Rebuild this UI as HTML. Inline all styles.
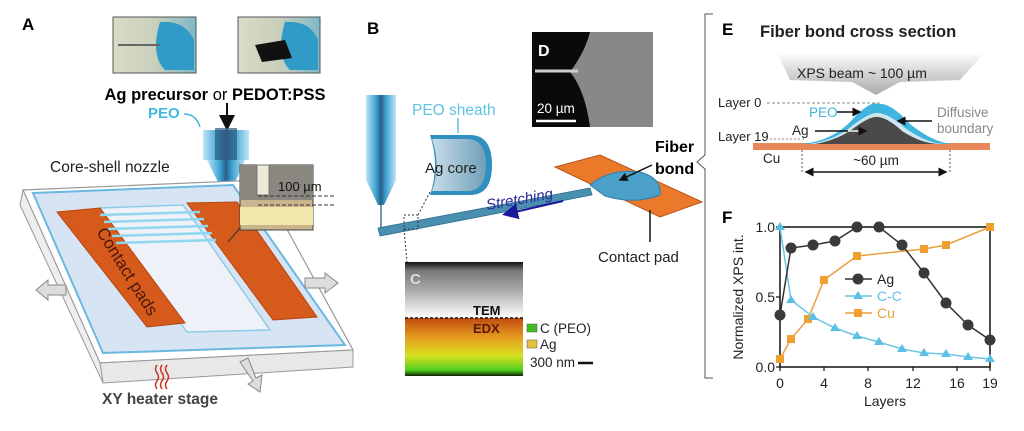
<!DOCTYPE html>
<html><head><meta charset="utf-8"><style>
html,body{margin:0;padding:0;background:#fff;}
svg{display:block;font-family:"Liberation Sans",Arial,sans-serif;}
</style></head><body>
<svg width="1024" height="431" viewBox="0 0 1024 431" xmlns="http://www.w3.org/2000/svg">
<defs>
<linearGradient id="nz" x1="0" x2="1"><stop offset="0" stop-color="#bfe6f5"/><stop offset=".35" stop-color="#3a9fd0"/><stop offset=".5" stop-color="#2a5f88"/><stop offset=".65" stop-color="#3a9fd0"/><stop offset="1" stop-color="#bfe6f5"/></linearGradient>
<linearGradient id="beam" x1="0" y1="0" x2="0" y2="1"><stop offset="0" stop-color="#fff"/><stop offset="1" stop-color="#aaa"/></linearGradient>
<linearGradient id="edx" x1="0" y1="0" x2="0" y2="1"><stop offset="0" stop-color="#c24a10"/><stop offset=".35" stop-color="#e6a020"/><stop offset=".65" stop-color="#d8e020"/><stop offset=".9" stop-color="#50d020"/><stop offset="1" stop-color="#102008"/></linearGradient>
<linearGradient id="tem" x1="0" y1="0" x2="0" y2="1"><stop offset="0" stop-color="#111"/><stop offset=".15" stop-color="#777"/><stop offset=".5" stop-color="#aaa"/><stop offset=".9" stop-color="#eee"/><stop offset="1" stop-color="#fff"/></linearGradient>
<linearGradient id="ph" x1="0" x2="1"><stop offset="0" stop-color="#d9dcc6"/><stop offset=".5" stop-color="#c9d0bc"/><stop offset="1" stop-color="#7fb8c8"/></linearGradient>
<linearGradient id="agc" x1="0" x2="1"><stop offset="0" stop-color="#c8dde8"/><stop offset="1" stop-color="#6f9fb8"/></linearGradient>
<marker id="ah" markerWidth="8" markerHeight="8" refX="6" refY="4" orient="auto"><path d="M0,0 L8,4 L0,8 z" fill="#111"/></marker>
<marker id="ahb" markerWidth="8" markerHeight="8" refX="6" refY="4" orient="auto"><path d="M0,0 L8,4 L0,8 z" fill="#1a1a9a"/></marker>
<marker id="ahs" markerWidth="6" markerHeight="6" refX="5" refY="3" orient="auto"><path d="M0,0 L6,3 L0,6 z" fill="#111"/></marker>
<marker id="ahs2" markerWidth="6" markerHeight="6" refX="1" refY="3" orient="auto"><path d="M6,0 L0,3 L6,6 z" fill="#111"/></marker>
</defs>

<!-- ===== Panel A ===== -->
<text x="22" y="30" font-size="17" font-weight="bold">A</text>
<rect x="113" y="17" width="83" height="56" fill="url(#ph)" stroke="#555" stroke-width="1"/>
<path d="M160,22 Q185,20 194,40 L194,70 L165,70 Q150,55 160,22z" fill="#2f9bc6"/>
<path d="M118,45 L160,45" stroke="#666" stroke-width="2"/>
<rect x="238" y="17" width="82" height="56" fill="url(#ph)" stroke="#555" stroke-width="1"/>
<path d="M285,22 Q310,20 318,40 L318,70 L290,70 Q275,55 285,22z" fill="#2f9bc6"/>
<path d="M255,45 L285,40 L292,58 L262,62z" fill="#111"/>
<text x="215" y="100" font-size="16.5" text-anchor="middle"><tspan font-weight="bold">Ag precursor</tspan> or <tspan font-weight="bold">PEDOT:PSS</tspan></text>
<text x="148" y="118" font-size="15" fill="#3fb7de" font-weight="bold">PEO</text>
<path d="M184,114 Q196,114 200,127" stroke="#3fb7de" stroke-width="1.5" fill="none"/>
<line x1="227" y1="103" x2="227" y2="127" stroke="#111" stroke-width="2" marker-end="url(#ah)"/>
<rect x="203" y="130" width="46" height="30" fill="url(#nz)"/>
<rect x="215" y="128" width="22" height="34" fill="#2d5a80" opacity=".7"/>
<path d="M207,160 L245,160 L229,196 L225,196z" fill="url(#nz)"/>
<line x1="227" y1="196" x2="227" y2="240" stroke="#8fd0ea" stroke-width="2"/>
<text x="50" y="172" font-size="15.5" fill="#222">Core-shell nozzle</text>
<!-- stage -->
<path d="M23,190 L260,180 L353,350 L100,363z" fill="#fff" stroke="#999" stroke-width="1.2"/>
<path d="M100,363 L353,350 L353,367 L103,383 L100,363z" fill="#e8e8e8" stroke="#999"/>
<path d="M23,190 L100,363 L103,383 L20,205z" fill="#eee" stroke="#999"/>
<path d="M33,193 L233,185 L345,345 L103,353z" fill="#d6e4f4" stroke="#6bb8e0" stroke-width="2"/>
<path d="M100,208 L183,205 L270,330 L187,332z" fill="#eef2f8" stroke="#8ecbe6" stroke-width="1.5"/>
<path d="M57,212 L100,208 L185,323 L147,327z" fill="#d55a1c" stroke="#b84510"/>
<path d="M187,203 L237,202 L317,317 L273,320z" fill="#d55a1c" stroke="#b84510"/>
<g stroke="#8fd6ee" stroke-width="2.5">
<line x1="100" y1="215" x2="200" y2="212"/><line x1="104" y1="222" x2="204" y2="219"/><line x1="108" y1="229" x2="208" y2="226"/><line x1="112" y1="236" x2="212" y2="233"/><line x1="116" y1="243" x2="216" y2="240"/>
</g>
<text x="0" y="0" font-size="17" fill="#4a1a08" transform="translate(96,232) rotate(58)">Contact pads</text>
<rect x="240" y="165" width="73" height="65" fill="#c9b58e" stroke="#444"/>
<rect x="240" y="165" width="73" height="35" fill="#8a8680"/>
<rect x="257" y="165" width="12" height="30" fill="#eee8d8" stroke="#777"/>
<rect x="240" y="207" width="73" height="18" fill="#f2e6a8"/>
<line x1="258" y1="196" x2="335" y2="196" stroke="#333" stroke-dasharray="4,2"/>
<line x1="258" y1="205" x2="335" y2="205" stroke="#333" stroke-dasharray="4,2"/>
<text x="278" y="191" font-size="13" fill="#111">100 µm</text>
<line x1="240" y1="228" x2="228" y2="242" stroke="#333"/>
<path d="M66,285 L48,285 L48,280 L36,290 L48,300 L48,295 L66,295z" fill="#ddd" stroke="#888"/>
<path d="M305,278 L325,278 L325,273 L338,283 L325,293 L325,288 L305,288z" fill="#ddd" stroke="#888"/>
<path d="M240,362 L248,358 L256,378 L262,375 L260,392 L248,384 L253,381z" fill="#ddd" stroke="#888"/>
<g stroke="#d03020" stroke-width="1.5" fill="none">
<path d="M157,365 q-3,4 0,8 q3,4 0,8 q-3,4 0,8"/><path d="M162,365 q-3,4 0,8 q3,4 0,8 q-3,4 0,8"/><path d="M167,365 q-3,4 0,8 q3,4 0,8 q-3,4 0,8"/>
</g>
<text x="160" y="404" font-size="15.5" font-weight="bold" fill="#444" text-anchor="middle">XY heater stage</text>

<!-- ===== Panel B ===== -->
<text x="367" y="34" font-size="17" font-weight="bold">B</text>
<rect x="366" y="95" width="30" height="85" fill="url(#nz)"/>
<path d="M366,180 L396,180 L384,205 L378,205z" fill="url(#nz)"/>
<line x1="381" y1="205" x2="381" y2="232" stroke="#6a9ab0" stroke-width="2"/>
<path d="M378,228 L590,188 L592,195 L380,236z" fill="#4a8eb0" stroke="#2f6f90" stroke-width=".8"/>
<rect x="404" y="215" width="14" height="14" fill="none" stroke="#333" stroke-dasharray="2,2"/>
<line x1="404" y1="229" x2="407" y2="262" stroke="#333" stroke-dasharray="2,2"/>
<line x1="418" y1="215" x2="430" y2="192" stroke="#333" stroke-dasharray="2,2"/>
<text x="412" y="115" font-size="15.5" fill="#5dc3e3">PEO sheath</text>
<line x1="458" y1="118" x2="458" y2="133" stroke="#5dc3e3" stroke-width="1.5"/>
<path d="M430,135 L470,135 Q492,135 492,165 Q492,195 470,195 L430,195 Q440,165 430,135z" fill="#2f8fbf"/>
<path d="M432,139 L468,139 Q486,140 486,165 Q486,190 468,191 L432,191 Q441,165 432,139z" fill="url(#agc)"/>
<text x="425" y="173" font-size="15" fill="#222">Ag core</text>
<text x="0" y="0" font-size="15" font-style="italic" fill="#2a2a9a" transform="translate(487,210) rotate(-10)">Stretching</text>
<line x1="563" y1="201" x2="506" y2="214" stroke="#1a1a9a" stroke-width="2" marker-end="url(#ahb)"/>
<rect x="532" y="32" width="121" height="95" fill="#0a0a0a"/>
<path d="M590,32 L653,32 L653,127 L590,127 Q585,90 570,72 Q585,52 590,32z" fill="#888"/>
<line x1="535" y1="71" x2="578" y2="71" stroke="#ccc" stroke-width="3"/>
<text x="538" y="56" font-size="16" font-weight="bold" fill="#fff">D</text>
<text x="537" y="113" font-size="13.5" fill="#fff">20 µm</text>
<line x1="536" y1="121" x2="576" y2="121" stroke="#fff" stroke-width="2.5"/>
<path d="M555,167 L600,155 L702,202 L660,217z" fill="#ea7a2a" stroke="#b8531a"/>
<path d="M590,185 Q610,168 640,172 Q662,178 660,195 Q635,205 605,196z" fill="#4aa0c8" stroke="#2f7fa8"/>
<text x="655" y="152" font-size="16" font-weight="bold" text-anchor="start">Fiber</text>
<text x="655" y="174" font-size="16" font-weight="bold">bond</text>
<line x1="652" y1="165" x2="620" y2="180" stroke="#111" stroke-width="1.5" marker-end="url(#ahs)"/>
<line x1="650" y1="242" x2="650" y2="210" stroke="#111" stroke-width="1.5"/>
<text x="598" y="262" font-size="15" fill="#222">Contact pad</text>
<rect x="405" y="262" width="118" height="56" fill="url(#tem)"/>
<rect x="405" y="318" width="118" height="58" fill="url(#edx)"/>
<line x1="405" y1="318" x2="523" y2="318" stroke="#111" stroke-dasharray="3,2" stroke-width="1.5"/>
<text x="410" y="284" font-size="15" font-weight="bold" fill="#ddd">C</text>
<text x="473" y="315" font-size="13" font-weight="bold" fill="#111">TEM</text>
<text x="473" y="333" font-size="13" font-weight="bold" fill="#5a1a05">EDX</text>
<rect x="527" y="324" width="10" height="8" fill="#40c020" stroke="#555" stroke-width=".5"/>
<text x="540" y="333" font-size="13.5" fill="#222">C (PEO)</text>
<rect x="527" y="340" width="10" height="8" fill="#e8c040" stroke="#555" stroke-width=".5"/>
<text x="540" y="349" font-size="13.5" fill="#222">Ag</text>
<text x="530" y="367" font-size="13.5" fill="#222">300 nm</text>
<line x1="578" y1="363" x2="593" y2="363" stroke="#111" stroke-width="2.5"/>

<!-- bracket -->
<path d="M713,14 L705,14 L705,155 L697,162 L705,169 L705,378 L713,378" fill="none" stroke="#555" stroke-width="1"/>

<!-- ===== Panel E ===== -->
<text x="722" y="35" font-size="17" font-weight="bold">E</text>
<text x="760" y="37" font-size="16.5" font-weight="bold" fill="#222">Fiber bond cross section</text>
<path d="M777,52 L985,52 L960,80 L900,82 L876,95 L852,82 L790,80z" fill="url(#beam)"/>
<text x="797" y="78" font-size="14" fill="#222">XPS beam ~ 100 µm</text>
<text x="718" y="107" font-size="13" fill="#222">Layer 0</text>
<line x1="767" y1="103" x2="880" y2="103" stroke="#888" stroke-dasharray="3,2"/>
<text x="718" y="141" font-size="13" fill="#222">Layer 19</text>
<line x1="770" y1="139" x2="805" y2="139" stroke="#888" stroke-dasharray="2,2"/>
<rect x="753" y="143" width="237" height="7" fill="#e8885a"/>
<path d="M800,144 Q830,142 850,122 Q870,100 878,104 Q890,102 910,124 Q935,144 955,144z" fill="#3fb4df"/>
<path d="M810,144 Q835,140 852,126 Q870,112 878,113 Q890,114 905,128 Q928,144 945,144z" fill="#cfe6ee"/>
<path d="M815,144 Q838,140 854,128 Q870,116 878,117 Q888,118 902,131 Q922,144 940,144z" fill="#4a4a4a"/>
<text x="809" y="117" font-size="13.5" fill="#3fb4df">PEO</text>
<line x1="837" y1="112" x2="860" y2="112" stroke="#111" stroke-width="1.5" marker-end="url(#ahs)"/>
<text x="792" y="135" font-size="13.5" fill="#222">Ag</text>
<line x1="815" y1="131" x2="848" y2="131" stroke="#111" stroke-width="1.5"/>
<line x1="848" y1="131" x2="866" y2="131" stroke="#eee" stroke-width="1.5" marker-end="url(#ahs)"/>
<line x1="932" y1="121" x2="898" y2="121" stroke="#111" stroke-width="1.5" marker-end="url(#ahs)"/>
<text x="937" y="117" font-size="13.5" fill="#888">Diffusive</text>
<text x="937" y="133" font-size="13.5" fill="#888">boundary</text>
<text x="763" y="163" font-size="13.5" fill="#222">Cu</text>
<line x1="802" y1="150" x2="802" y2="172" stroke="#555" stroke-dasharray="2,2"/>
<line x1="950" y1="150" x2="950" y2="172" stroke="#555" stroke-dasharray="2,2"/>
<text x="876" y="165" font-size="13.5" fill="#222" text-anchor="middle">~60 µm</text>
<line x1="806" y1="172" x2="946" y2="172" stroke="#111" stroke-width="1.5" marker-end="url(#ahs)" marker-start="url(#ahs2)"/>

<!-- ===== Panel F ===== -->
<text x="722" y="223" font-size="17" font-weight="bold">F</text>
<rect x="780" y="227" width="210" height="140" fill="none" stroke="#111" stroke-width="1.5"/>
<g stroke="#111" stroke-width="1.2">
<line x1="776" y1="227" x2="780" y2="227"/><line x1="776" y1="297" x2="780" y2="297"/><line x1="776" y1="367" x2="780" y2="367"/>
<line x1="780" y1="367" x2="780" y2="371"/><line x1="824" y1="367" x2="824" y2="371"/><line x1="868" y1="367" x2="868" y2="371"/><line x1="913" y1="367" x2="913" y2="371"/><line x1="957" y1="367" x2="957" y2="371"/><line x1="990" y1="367" x2="990" y2="371"/>
</g>
<g font-size="14" fill="#222" text-anchor="end">
<text x="775" y="232">1.0</text><text x="775" y="302">0.5</text><text x="775" y="372">0.0</text>
</g>
<g font-size="14" fill="#222" text-anchor="middle">
<text x="780" y="388">0</text><text x="824" y="388">4</text><text x="868" y="388">8</text><text x="913" y="388">12</text><text x="957" y="388">16</text><text x="990" y="388">19</text>
</g>
<text x="885" y="406" font-size="14" fill="#222" text-anchor="middle">Layers</text>
<text x="0" y="0" font-size="14" fill="#222" text-anchor="middle" transform="translate(743,297) rotate(-90)">Normalized XPS int.</text>
<polyline fill="none" stroke="#e8a040" stroke-width="1.5" points="780,359 791,339 808,319 824,280 857,256 924,249 946,245 990,227"/>
<g fill="#f0a030"><rect x="776" y="355" width="8" height="8"/><rect x="787" y="335" width="8" height="8"/><rect x="804" y="315" width="8" height="8"/><rect x="820" y="276" width="8" height="8"/><rect x="853" y="252" width="8" height="8"/><rect x="920" y="245" width="8" height="8"/><rect x="942" y="241" width="8" height="8"/><rect x="986" y="223" width="8" height="8"/></g>
<polyline fill="none" stroke="#6cc6e6" stroke-width="1.5" points="780,227 791,300 813,317 835,328 857,336 879,342 902,349 924,353 946,354 968,357 990,359"/>
<g fill="#5cc0e4"><path d="M780,222 l5,8 h-10z"/><path d="M791,295 l5,8 h-10z"/><path d="M813,312 l5,8 h-10z"/><path d="M835,323 l5,8 h-10z"/><path d="M857,331 l5,8 h-10z"/><path d="M879,337 l5,8 h-10z"/><path d="M902,344 l5,8 h-10z"/><path d="M924,348 l5,8 h-10z"/><path d="M946,349 l5,8 h-10z"/><path d="M968,352 l5,8 h-10z"/><path d="M990,354 l5,8 h-10z"/></g>
<polyline fill="none" stroke="#333" stroke-width="1.5" points="780,315 791,248 813,245 835,241 857,227 879,227 902,245 924,273 946,303 968,325 990,340"/>
<g fill="#3a3a3a"><circle cx="780" cy="315" r="5.5"/><circle cx="791" cy="248" r="5.5"/><circle cx="813" cy="245" r="5.5"/><circle cx="835" cy="241" r="5.5"/><circle cx="857" cy="227" r="5.5"/><circle cx="879" cy="227" r="5.5"/><circle cx="902" cy="245" r="5.5"/><circle cx="924" cy="273" r="5.5"/><circle cx="946" cy="303" r="5.5"/><circle cx="968" cy="325" r="5.5"/><circle cx="990" cy="340" r="5.5"/></g>
<line x1="845" y1="279" x2="872" y2="279" stroke="#333" stroke-width="1.5"/><circle cx="858" cy="279" r="5.5" fill="#3a3a3a"/>
<text x="877" y="284" font-size="14" fill="#222">Ag</text>
<line x1="845" y1="296" x2="872" y2="296" stroke="#6cc6e6" stroke-width="1.5"/><path d="M858,291 l5,8 h-10z" fill="#5cc0e4"/>
<text x="877" y="301" font-size="14" fill="#5cc0e4">C-C</text>
<line x1="845" y1="313" x2="872" y2="313" stroke="#e8a040" stroke-width="1.5"/><rect x="854" y="309" width="8" height="8" fill="#f0a030"/>
<text x="877" y="318" font-size="14" fill="#e8a040">Cu</text>
</svg>
</body></html>
